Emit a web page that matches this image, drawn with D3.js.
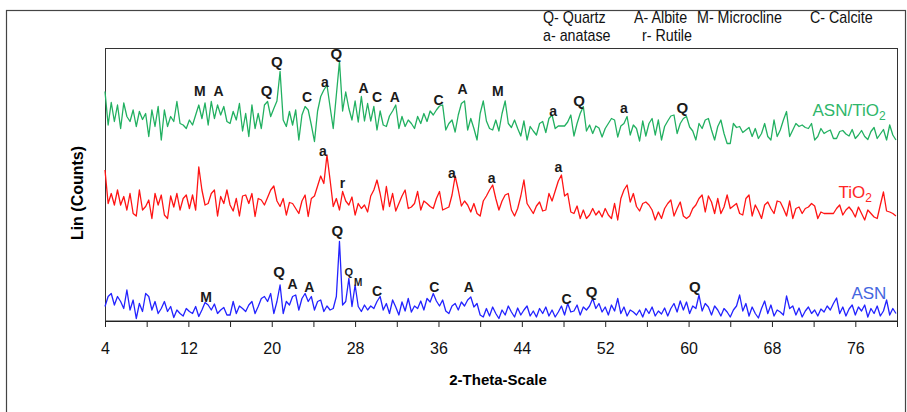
<!DOCTYPE html>
<html lang="en">
<head>
<meta charset="UTF-8">
<title>XRD patterns: ASN, TiO2, ASN/TiO2</title>
<script src="https://cdn.jsdelivr.net/npm/d3@7"></script>
<style>
  body { margin: 0; background: #fff; font-family: Arial, "Liberation Sans", sans-serif; }
  svg { display: block; }
  .axis line, .axis path { stroke: #222; }
  .axis text { font-size: 16px; fill: #111; font-family: Arial, "Liberation Sans", sans-serif; }
  .peak { fill: #1a1a1a; text-anchor: middle; font-weight: bold; }
  .legend { font-size: 17px; fill: #111; }
</style>
</head>
<body>
<svg id="xrd" width="907" height="412"></svg>
<script>
// 2-theta sampling of the scans
const thetaStart = 4, thetaStep = 0.3;

// intensities (Lin counts, stacked)
const asn = [
  29, 49, 55, 32, 49, 39, 25, 62, 22, 42,
  5, 35, 19, 55, 49, 22, 39, 15, 25, 39,
  19, 29, 7, 22, 15, 10, 25, 19, 15, 29,
  9, 22, 37, 32, 22, 34, 15, 22, 27, 12,
  12, 39, 15, 30, 25, 19, 32, 39, 15, 29,
  45, 49, 39, 55, 15, 39, 72, 15, 39, 32,
  49, 52, 22, 45, 55, 39, 49, 22, 39, 42,
  19, 30, 22, 25, 49, 159, 32, 39, 85, 29,
  72, 29, 19, 32, 22, 30, 25, 39, 49, 22,
  35, 15, 42, 28, 12, 38, 20, 45, 18, 30,
  25, 40, 22, 45, 38, 55, 40, 30, 42, 20,
  15, 30, 35, 22, 38, 30, 42, 48, 28, 35,
  12, 8, 25, 10, 28, 15, 5, 22, 12, 30,
  18, 8, 26, 12, 22, 30, 10, 20, 8, 25,
  15, 28, 10, 22, 8, 18, 30, 12, 35, 18,
  20, 32, 12, 28, 22, 30, 45, 25, 35, 18,
  28, 12, 32, 20, 45, 15, 28, 10, 22, 18,
  12, 22, 8, 25, 15, 28, 10, 20, 14, 26,
  10, 25, 35, 18, 40, 22, 38, 15, 30, 25,
  52, 20, 35, 28, 12, 30, 22, 10, 25, 18,
  8, 22, 30, 52, 20, 35, 10, 28, 15, 6,
  25, 40, 15, 32, 10, 22, 18, 12, 50, 25,
  30, 12, 26, 8, 20, 28, 15, 22, 10, 24,
  18, 30, 22, 35, 46, 15, 28, 10, 24, 32,
  12, 28, 20, 32, 8, 25, 15, 30, 10, 20,
  42, 12, 25, 15
];

const tio2 = [
  302, 235, 255, 232, 262, 232, 249, 222, 255, 215,
  210, 262, 222, 229, 242, 205, 255, 232, 252, 212,
  205, 250, 228, 255, 222, 245, 252, 225, 252, 222,
  308, 262, 232, 235, 255, 262, 210, 249, 235, 262,
  232, 220, 245, 210, 250, 252, 235, 255, 209, 245,
  242, 232, 247, 262, 270, 240, 229, 245, 212, 237,
  235, 225, 215, 240, 252, 209, 245, 250, 270, 290,
  275, 332, 282, 229, 245, 222, 259, 240, 232, 248,
  212, 235, 225, 232, 218, 250, 262, 282, 255, 222,
  269, 229, 255, 220, 235, 250, 262, 225, 228, 235,
  259, 222, 240, 235, 229, 225, 245, 259, 222, 225,
  228, 252, 290, 262, 230, 240, 232, 218, 235, 215,
  210, 240, 250, 262, 272, 245, 222, 240, 252, 255,
  222, 210, 225, 250, 282, 235, 225, 215, 230, 238,
  220, 222, 255, 240, 260, 280, 292, 250, 255, 218,
  215, 230, 205, 222, 205, 212, 225, 212, 220, 208,
  225, 212, 205, 235, 202, 245, 262, 272, 238, 255,
  229, 220, 235, 238, 232, 222, 202, 218, 205, 225,
  235, 242, 210, 225, 238, 210, 205, 210, 225, 232,
  245, 252, 218, 250, 238, 215, 245, 215, 228, 252,
  225, 230, 235, 215, 212, 245, 252, 210, 232, 220,
  205, 232, 238, 225, 215, 240, 238, 225, 210, 240,
  205, 225, 228, 215, 225, 228, 235, 230, 205, 218,
  215, 215, 215, 215, 225, 232, 212, 222, 228, 220,
  208, 228, 215, 202, 222, 215, 208, 205, 232, 258,
  220, 218, 215, 210
];

const asnTio2 = [
  459, 392, 437, 399, 432, 385, 436, 409, 399, 422,
  389, 419, 403, 415, 369, 422, 389, 429, 362, 422,
  389, 409, 399, 439, 395, 392, 385, 402, 392, 412,
  432, 405, 436, 392, 439, 405, 432, 412, 429, 399,
  395, 419, 402, 435, 380, 415, 369, 432, 385, 415,
  385, 432, 439, 409, 425, 440, 499, 402, 389, 419,
  392, 422, 362, 412, 429, 422, 392, 359, 420, 449,
  462, 472, 428, 385, 452, 519, 420, 458, 425, 402,
  440, 398, 449, 400, 435, 400, 429, 382, 420, 392,
  389, 410, 420, 432, 385, 409, 389, 402, 395, 385,
  409, 395, 415, 399, 420, 412, 422, 430, 432, 382,
  395, 402, 378, 412, 435, 440, 382, 405, 385, 362,
  415, 440, 400, 385, 382, 402, 380, 415, 440, 395,
  387, 402, 385, 370, 400, 362, 389, 380, 372, 395,
  399, 377, 405, 412, 385, 390, 390, 390, 398, 412,
  370, 395, 415, 429, 380, 392, 375, 390, 386, 368,
  385, 395, 405, 402, 368, 390, 395, 409, 372, 392,
  385, 360, 400, 370, 395, 405, 372, 402, 362, 389,
  400, 410, 412, 375, 395, 405, 409, 388, 380, 362,
  395, 385, 402, 405, 382, 362, 389, 402, 375, 355,
  355, 395, 387, 389, 377, 382, 387, 369, 385, 365,
  375, 395, 369, 362, 402, 369, 382, 402, 419, 369,
  382, 395, 389, 392, 387, 385, 395, 362, 369, 385,
  375, 379, 382, 365, 365, 379, 381, 374, 370, 383,
  365, 372, 381, 369, 363, 379, 387, 365, 374, 383,
  362, 392, 372, 362
];

// phase marks: [letter, 2-theta, counts]
const asnTio2Peaks = [
  ["M", 13.1, 460], ["A", 14.9, 460], ["Q", 19.5, 460], ["Q", 20.5, 518],
  ["C", 23.4, 448], ["a", 25.1, 478], ["Q", 26.2, 534], ["A", 28.8, 466],
  ["C", 30.1, 448], ["A", 31.8, 448], ["C", 36.0, 442], ["A", 38.3, 464],
  ["M", 41.7, 460], ["a", 47.0, 420], ["Q", 49.5, 440], ["a", 53.8, 426],
  ["Q", 59.4, 426]
];
const tio2Peaks = [
  ["a", 24.9, 340], ["r", 26.8, 276], ["a", 37.3, 296], ["a", 41.1, 286], ["a", 47.5, 308]
];
const asnPeaks = [
  ["M", 13.7, 48], ["Q", 20.7, 98], ["A", 22.0, 74], ["A", 23.6, 68], ["Q", 26.3, 180],
  ["C", 30.1, 60], ["C", 35.6, 68], ["A", 38.9, 68], ["C", 48.3, 44], ["Q", 50.7, 58],
  ["Q", 60.6, 68]
];
const asnSmallPeaks = [["Q", 27.4, 98], ["M", 28.3, 78]];

const seriesNames = ["ASN", "TiO", "ASN/TiO"];
const seriesColors = ["#2323ff", "#ff1414", "#22b061"];
const nameColors = ["#4466e0", "#ff2626", "#2eb66a"];
const nameAt = [[77.3, 56], [76.0, 258], [75.4, 422]];

const legendRow1 = ["Q- Quartz", "A- Albite", "M- Microcline", "C- Calcite"];
const legendRow2 = ["a- anatase", "r- Rutile"];

const xTicks = d3.range(4, 81, 4);
const xLabels = [4, 12, 20, 28, 36, 44, 52, 60, 68, 76];

const svg = d3.select("#xrd");

const x = d3.scaleLinear().domain([4, 80]).range([105, 897]);
const y = d3.scaleLinear().domain([0, 546]).range([321, 48]);

// outer frame
svg.append("rect")
    .attr("x", 6.5).attr("y", 10.5)
    .attr("width", 899).attr("height", 420)
    .attr("fill", "none").attr("stroke", "#444").attr("stroke-width", 1.2);

// plot frame
svg.append("rect")
    .attr("x", 105.5).attr("y", 48.5)
    .attr("width", 792).attr("height", 272.5)
    .attr("fill", "none").attr("stroke", "#333").attr("stroke-width", 1);

const xAxis = svg.append("g")
    .attr("class", "axis")
    .attr("transform", "translate(0,321)")
    .call(d3.axisBottom(x)
        .tickValues(xTicks)
        .tickSize(6)
        .tickPadding(16)
        .tickFormat(v => xLabels.includes(v) ? v : ""));
xAxis.select(".domain").attr("stroke", "#222");

svg.append("text")
    .attr("x", 498).attr("y", 385)
    .attr("text-anchor", "middle")
    .style("font-weight", "bold").style("font-size", "15px")
    .text("2-Theta-Scale");

svg.append("text")
    .attr("transform", "translate(83,193) rotate(-90)")
    .attr("text-anchor", "middle")
    .style("font-weight", "bold").style("font-size", "16px")
    .text("Lin (Counts)");

// scans
const line = d3.line()
    .x((d, i) => x(thetaStart + i * thetaStep))
    .y(d => y(d));

[asn, tio2, asnTio2].forEach((vals, k) => {
    svg.append("path")
        .datum(vals)
        .attr("fill", "none")
        .attr("stroke", seriesColors[k])
        .attr("stroke-width", 1.3)
        .attr("stroke-linejoin", "round")
        .attr("d", line);
});

// phase letters
function drawPeaks(list, size) {
    svg.append("g").selectAll("text")
        .data(list)
        .join("text")
        .attr("class", "peak")
        .attr("x", d => x(d[1]))
        .attr("y", d => y(d[2]))
        .attr("dy", "0.36em")
        .style("font-size", d => (d[0] === "Q" ? size + 1 : size) + "px")
        .text(d => d[0]);
}
drawPeaks(asnTio2Peaks, 14);
drawPeaks(tio2Peaks, 14);
drawPeaks(asnPeaks, 14);
drawPeaks(asnSmallPeaks, 10);

// sample names
seriesNames.forEach((name, k) => {
    const t = svg.append("text")
        .attr("x", x(nameAt[k][0]))
        .attr("y", y(nameAt[k][1]))
        .attr("dy", "0.36em")
        .attr("text-anchor", "middle")
        .attr("fill", nameColors[k])
        .style("font-size", "17px")
        .text(name);
    if (k > 0) {
        t.append("tspan").attr("dy", "0.3em").style("font-size", "12px").text("2");
    }
});

// phase legend (narrow lettering, as in the source figure)
const row1X = [543, 634, 697, 810];
const row2X = [543, 642];
function drawLegendRow(items, xs, yPos) {
    svg.append("g").selectAll("text")
        .data(items).join("text")
        .attr("class", "legend")
        .attr("x", (d, i) => xs[i]).attr("y", yPos)
        .text(d => d)
        .each(function () {
            const w = this.getComputedTextLength();
            d3.select(this)
                .attr("textLength", w * 0.84)
                .attr("lengthAdjust", "spacingAndGlyphs");
        });
}
drawLegendRow(legendRow1, row1X, 23);
drawLegendRow(legendRow2, row2X, 41);
</script>
</body>
</html>
